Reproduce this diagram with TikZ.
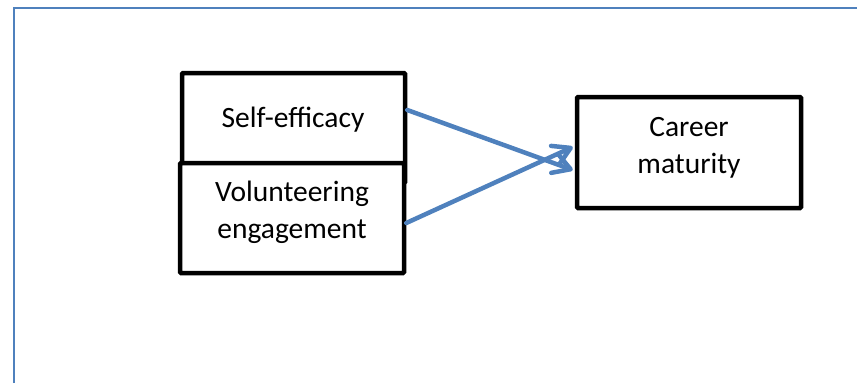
\documentclass[tikz,border=0pt]{standalone}
\usepackage{fontspec}
\setmainfont{Carlito}
\usetikzlibrary{arrows.meta,calc}
\definecolor{officeblue}{HTML}{4F81BD}
\begin{document}
\begin{tikzpicture}[x=1pt,y=-1pt,
  box/.style={draw=black,line width=4.5pt,fill=white,rounded corners=1pt,inner sep=0pt,minimum width=224pt,minimum height=110pt},
  lbl/.style={font=\fontsize{29.5}{37}\selectfont,align=center,inner sep=0pt},
  link/.style={draw=officeblue,line width=4.5pt,line cap=round,-{Straight Barb[length=17pt,width=20pt,line width=4.5pt,round]}},
  frame/.style={draw=officeblue,line width=1.5pt}]
\useasboundingbox (0,0) rectangle (857,383);
\draw[frame] (14,383) -- (14,8) -- (857,8);
\node[box,minimum width=223pt] (se) at (293.5,128) {};
\node[box] (ve) at (292,218) {};
\node[box,minimum height=111pt] (cm) at (689,152.5) {};
\node[lbl,anchor=base] (setxt) at (293,127) {Self-efficacy};
\node[lbl,anchor=base] (vetxt) at (292,238) {Volunteering\\engagement};
\node[lbl,anchor=base] (cmtxt) at (689,173) {Career\\maturity};
\coordinate (a1s) at ($(se.east)+(0,-18)$);
\coordinate (a1e) at ($(cm.west)+(-2,17.5)$);
\coordinate (a2s) at ($(ve.east)+(0,5)$);
\coordinate (a2e) at ($(cm.west)+(-2,-5.5)$);
\draw[link] (a1s) -- (a1e);
\draw[link] (a2s) -- (a2e);
\end{tikzpicture}
\end{document}
